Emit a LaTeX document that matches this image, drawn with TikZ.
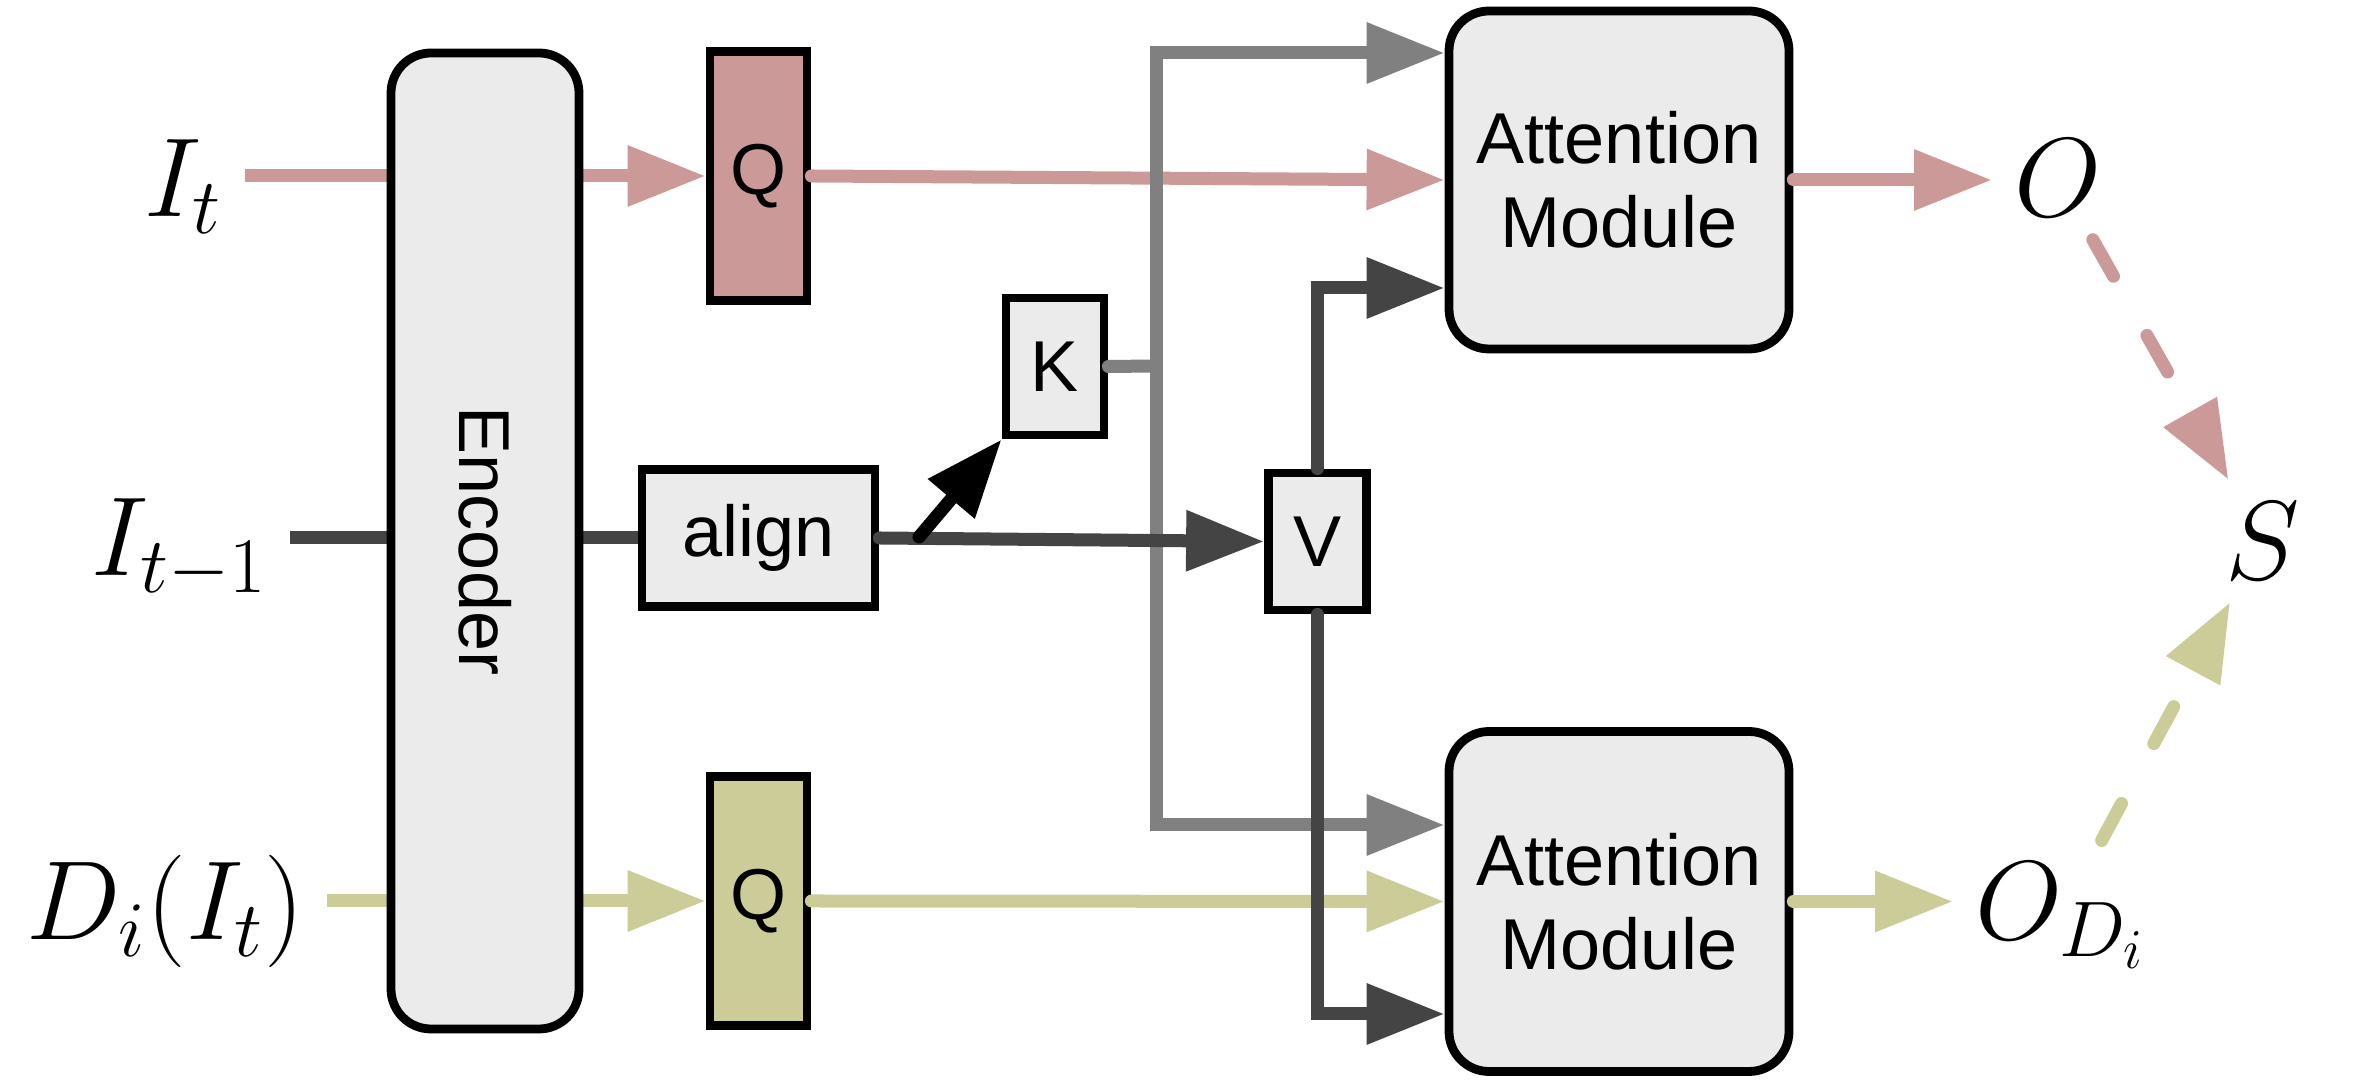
\RequirePackage{fix-cm}
\documentclass[tikz,border=0pt]{standalone}
\usepackage[no-math]{fontspec}
\setmainfont{Liberation Sans}
\usetikzlibrary{arrows.meta,backgrounds}

\definecolor{pinkline}{RGB}{204,153,153}
\definecolor{oliveline}{RGB}{204,204,153}
\definecolor{grayline}{RGB}{128,128,128}
\definecolor{darkline}{RGB}{68,68,68}
\definecolor{boxfill}{RGB}{235,235,235}

\def\linew{3.7pt}
\def\labelsize{\fontsize{32}{36}\selectfont}

\begin{document}
\begin{tikzpicture}[line cap=round, >={Triangle[length=0.78cm,width=0.58cm]}]
      \tikzstyle{box}=[draw=black, line width=2.5pt, fill=boxfill, inner sep=0pt, font=\fontsize{20.5}{24}\selectfont]
      \tikzstyle{module}=[box, rounded corners=0.4cm, align=center]
      \tikzstyle{query}=[box, minimum width=0.97cm, minimum height=2.49cm]
      \tikzstyle{kvbox}=[box, minimum width=0.98cm, minimum height=1.37cm]
      \tikzstyle{mathlabel}=[inner sep=0.22cm, font=\labelsize]
      \tikzstyle{link}=[line width=\linew, ->]
      \tikzstyle{dashlink}=[link, dash pattern=on 0.42cm off 0.68cm]

      \useasboundingbox (0,0) rectangle (23.55,-10.81);

      % Draw the encoder and the boxes behind it
      \node[module, rotate=-90, minimum width=9.76cm, minimum height=1.88cm] (enc) at (4.85,-5.41) {Encoder};
      \node[query, fill=pinkline] (Qt) at (7.585,-1.76) {Q};
      \node[query, fill=oliveline] (Qb) at (7.585,-9.01) {Q};
      \node[box, minimum width=2.33cm, minimum height=1.37cm] (align) at (7.585,-5.38) {align};
      \node[kvbox] (K) at (10.55,-3.665) {K};
      \node[kvbox] (V) at (13.175,-5.415) {V};

      % Draw the attention modules
      \node[module, minimum width=3.40cm, minimum height=3.38cm] (attT) at (16.19,-1.80) {Attention\\Module};
      \node[module, minimum width=3.40cm, minimum height=3.40cm] (attB) at (16.19,-9.015) {Attention\\Module};

      % Inputs and outputs
      \node[mathlabel, anchor=base east] (It) at (2.45,-2.17) {$I_t$};
      \node[mathlabel, anchor=base east] (Itm) at (2.90,-5.76) {$I_{t-1}$};
      \node[mathlabel, anchor=base east] (Dit) at (3.27,-9.40) {$D_i(I_t)$};
      \node[mathlabel, anchor=base west] (O) at (19.92,-2.17) {$O$};
      \node[mathlabel, anchor=base west] (OD) at (19.53,-9.40) {$O_{D_i}$};
      \node[mathlabel] (S) at (22.63,-5.41) {$S$};

      % Lines that pass behind the encoder
      \begin{pgfonlayer}{background}
          \draw[link, pinkline] (It.east |- Qt.west) -- (Qt.west);
          \draw[line width=\linew, darkline] (Itm.east |- align.west) -- (align.west);
          \draw[link, oliveline] (Dit.east |- Qb.west) -- (Qb.west);
      \end{pgfonlayer}

      % Queries into the attention modules
      \draw[link, pinkline] (Qt.east) -- (attT.west);
      \draw[link, oliveline] (Qb.east) -- (attB.west);

      % Keys go to both modules
      \coordinate (kj) at (11.565,-3.66);
      \draw[line width=\linew, grayline] (K.east) -- (kj);
      \draw[link, grayline] (kj) |- ([yshift=1.27cm]attT.west);
      \draw[link, grayline] (kj) |- ([yshift=0.765cm]attB.west);

      % Aligned features give keys and values
      \coordinate (ak) at (9.19,-5.37);
      \draw[link, darkline] (align.east) -- (V.west);
      \draw[link, black] (ak) -- (K.south west);
      \draw[link, darkline] (V.north) |- ([yshift=-1.08cm]attT.west);
      \draw[link, darkline] (V.south) |- ([yshift=-1.125cm]attB.west);

      % Outputs and the score
      \draw[link, pinkline] (attT.east) -- (attT.east -| O.west);
      \draw[link, oliveline] (attB.east) -- (attB.east -| OD.west);
      \draw[dashlink, pinkline] (O) -- (S);
      \draw[dashlink, oliveline] (OD) -- (S);
\end{tikzpicture}
\end{document}
